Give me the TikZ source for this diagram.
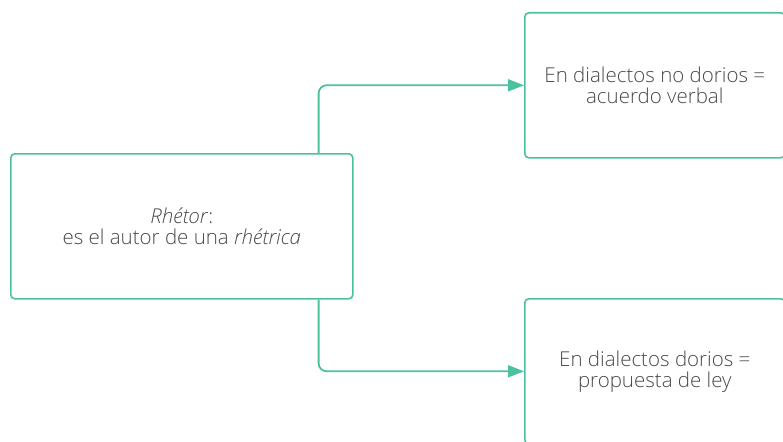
\documentclass[tikz,border=0pt]{standalone}
\usepackage{fontspec}
\setmainfont{Open Sans}[UprightFont=* Light, ItalicFont=* Light Italic]
\usetikzlibrary{arrows.meta}
\definecolor{mygreen}{HTML}{4BC29F}
\definecolor{textgray}{HTML}{4A4A4A}
\begin{document}
\begin{tikzpicture}[x=1pt,y=-1pt,
  box/.style={draw=mygreen, line width=1.6pt, rounded corners=4pt, align=center,
    text=textgray, font=\fontsize{20.5}{21}\selectfont, inner sep=0pt},
  conn/.style={draw=mygreen, line width=1.8pt, rounded corners=8pt,
    -{Triangle[length=16pt,width=12pt]}}]
\useasboundingbox (0,0) rectangle (783,441);
\clip (0,0) rectangle (783,441);
\node[box, minimum width=342pt, minimum height=145pt, anchor=north west] (src) at (10,153)
  {\textit{Rhétor}:\\es el autor de una \textit{rhétrica}};
\node[box, minimum width=260pt, minimum height=145pt, anchor=north west] (a) at (524,12)
  {En dialectos no dorios =\\acuerdo verbal};
\node[box, minimum width=260pt, minimum height=145pt, anchor=north west] (b) at (524,298)
  {En dialectos dorios =\\propuesta de ley};
\draw[conn] ([xshift=-35pt]src.north east) |- (a.west);
\draw[conn] ([xshift=-35pt]src.south east) |- (b.west);
\end{tikzpicture}
\end{document}
